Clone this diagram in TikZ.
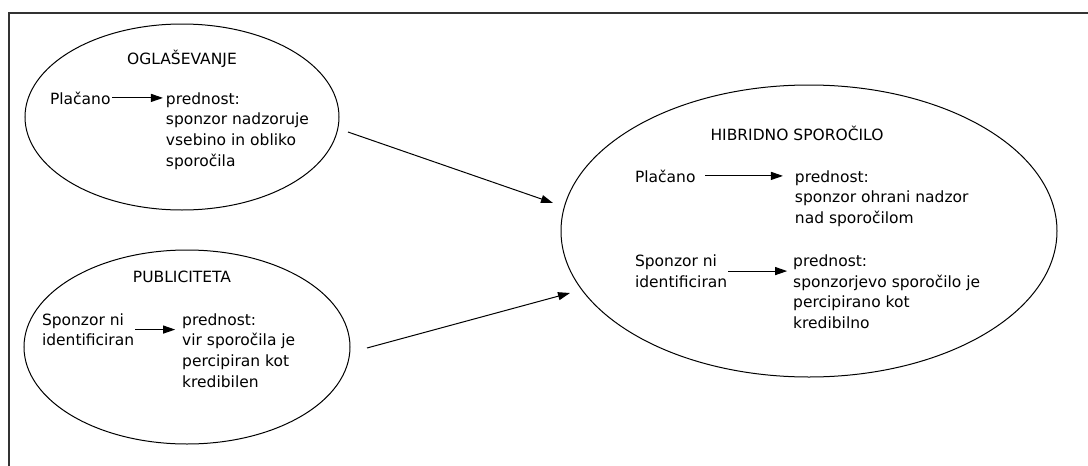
\documentclass[tikz,border=0pt]{standalone}
\usepackage{fontspec}
\setmainfont{DejaVu Sans}
\usetikzlibrary{positioning,shapes.geometric,arrows.meta}

\begin{document}
\begin{tikzpicture}[x=1pt, y=-1pt, node distance = 0pt,
EllStyle/.style={draw, ellipse, line width=1pt, inner sep=0pt, outer sep=0pt},
TxtStyle/.style={draw=none, inner sep=0pt, outer sep=0pt, align=left,
                font=\fontsize{15.5}{20.7}\selectfont},
ArrStyle/.style={-{Triangle[length=12pt, width=8pt]}, line width=1pt},]
\useasboundingbox (0,0) rectangle (1088,466);
\draw [line width=1.2pt, black!80] (9,470) |- (1092,13);
% ellipses
\node [EllStyle, minimum width=314pt, minimum height=186pt] (ogl) at (182,117) {};
\node [EllStyle, minimum width=326pt, minimum height=194pt] (pub) at (187,347) {};
\node [EllStyle, minimum width=496pt, minimum height=292pt] (hib) at (809,231) {};
% titles
\node [TxtStyle, anchor=base] (oglT) at (182,64) {OGLAŠEVANJE};
\node [TxtStyle, anchor=base] (pubT) at (182,282) {PUBLICITETA};
\node [TxtStyle, anchor=base] (hibT) at (797,140) {HIBRIDNO SPOROČILO};
% oglasevanje
\node [TxtStyle, anchor=base west] (pla1) at (50,104) {Plačano};
\node [TxtStyle, base right=55.5pt of pla1, yshift=-62.1pt] (pre1) {prednost:\\sponzor nadzoruje\\vsebino in obliko\\sporočila};
% publiciteta
\node [TxtStyle, anchor=base west] (spo2) at (42,345.7) {Sponzor ni\\identificiran};
\node [TxtStyle, base right=48pt of spo2, yshift=-41.4pt] (pre2) {prednost:\\vir sporočila je\\percipiran kot\\kredibilen};
% hibridno
\node [TxtStyle, anchor=base west] (pla3) at (635,182) {Plačano};
\node [TxtStyle, base right=99.5pt of pla3, yshift=-41.4pt] (pre3) {prednost:\\sponzor ohrani nadzor\\nad sporočilom};
\node [TxtStyle, anchor=base west] (spo3) at (635,287.2) {Sponzor ni\\identificiran};
\node [TxtStyle, base right=66pt of spo3, yshift=-41.4pt] (pre4) {prednost:\\sponzorjevo sporočilo je\\percipirano kot\\kredibilno};
% arrows
\draw [ArrStyle, shorten <=2pt, shorten >=3pt] (pla1.east) -- (pla1.east -| pre1.west);
\draw [ArrStyle, shorten <=1pt, shorten >=7pt] (spo2.east) -- (spo2.east -| pre2.west);
\draw [ArrStyle, shorten <=10pt, shorten >=12pt] (pla3.east) -- (pla3.east -| pre3.west);
\draw [ArrStyle, shorten <=1pt, shorten >=6pt] (spo3.east) -- (spo3.east -| pre4.west);
\coordinate (a1s) at (348,132);
\coordinate (a1e) at (553,203);
\coordinate (a2s) at (367,348);
\coordinate (a2e) at (570,293);
\draw [ArrStyle] (a1s) -- (a1e);
\draw [ArrStyle] (a2s) -- (a2e);
\end{tikzpicture}
\end{document}
